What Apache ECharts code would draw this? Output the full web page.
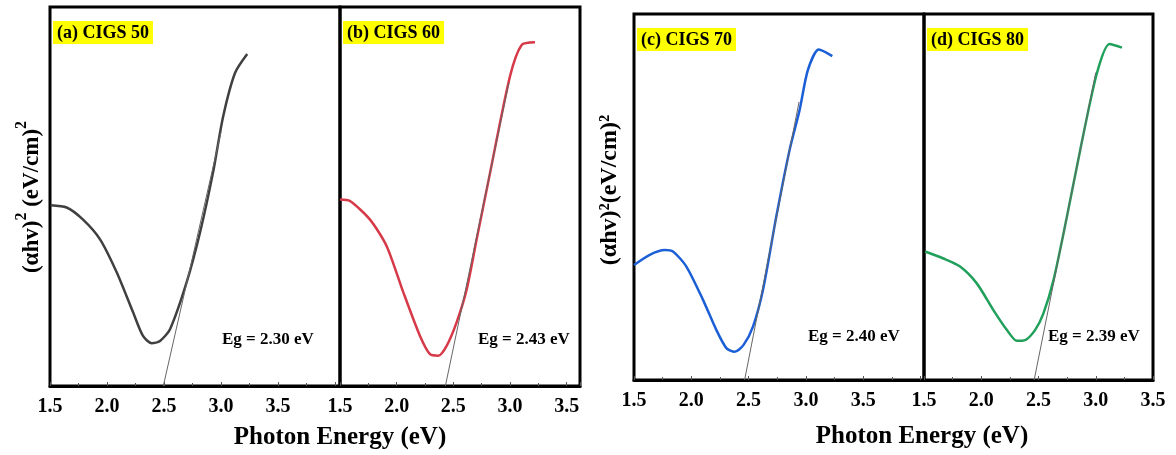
<!DOCTYPE html>
<html>
<head>
<meta charset="utf-8">
<script src="https://cdn.jsdelivr.net/npm/echarts@6/dist/echarts.min.js"></script>
<style>html,body{margin:0;padding:0;background:#fff;}#c{width:1176px;height:455px;}</style>
</head>
<body>
<div id="c"></div>
<script>
// ---- data (y in arbitrary units, 0..100 of panel height) ----
const xTicks = ['1.5', '2.0', '2.5', '3.0', '3.5'];
const panelTitles = ['(a) CIGS 50', '(b) CIGS 60', '(c) CIGS 70', '(d) CIGS 80'];
const egLabels = ['Eg = 2.30 eV', 'Eg = 2.43 eV', 'Eg = 2.40 eV', 'Eg = 2.39 eV'];

const energyA = [1.506, 1.646, 1.79, 1.939, 2.085, 2.228, 2.316, 2.392, 2.465, 2.553, 2.699, 2.816, 2.93, 3.018, 3.123, 3.23];
const absA    = [47.7, 47.1, 43.9, 38.7, 30.0, 19.5, 13.2, 11.3, 11.9, 15.0, 27.4, 40.5, 56.3, 71.0, 82.6, 87.6];
const tangentAx = [2.494, 3.0];
const tangentAy = [0, 67];

const energyB = [1.5, 1.588, 1.765, 1.912, 2.059, 2.206, 2.294, 2.368, 2.441, 2.529, 2.618, 2.706, 2.824, 3.0, 3.103, 3.221];
const absB    = [49.2, 48.8, 43.9, 36.9, 24.7, 13.2, 8.4, 8.0, 10.6, 16.8, 25.5, 38.7, 56.2, 81.7, 90.0, 90.7];
const tangentBx = [2.43, 2.99];
const tangentBy = [0, 80];

const energyC = [1.5, 1.637, 1.768, 1.84, 1.957, 2.102, 2.218, 2.306, 2.378, 2.456, 2.538, 2.625, 2.741, 2.857, 2.945, 3.017, 3.113, 3.23];
const absC    = [31.4, 34.2, 35.5, 35.1, 31.0, 21.9, 13.7, 8.7, 7.7, 9.6, 14.6, 24.6, 44.6, 62.8, 73.8, 84.7, 90.3, 88.5];
const tangentCx = [2.465, 2.94];
const tangentCy = [0, 76];

const energyD = [1.509, 1.669, 1.815, 1.961, 2.106, 2.223, 2.311, 2.383, 2.471, 2.543, 2.631, 2.748, 2.864, 3.01, 3.12, 3.229];
const absD    = [35.1, 33.2, 31.0, 26.4, 19.1, 13.7, 10.7, 10.9, 13.7, 18.2, 27.3, 44.6, 62.8, 83.8, 91.8, 90.8];
const tangentDx = [2.462, 3.0];
const tangentDy = [0, 84];

const xMax = [4.044, 3.618, 4.03, 3.5];
const colors = ['#404040', '#d63a48', '#1b5fd6', '#20a05a'];

// ---- layout ----
const FONT = '"Liberation Serif", "Times New Roman", serif';
const grids = [
  {left: 50, top: 7, width: 290, height: 379},
  {left: 340, top: 7, width: 240, height: 379},
  {left: 634, top: 14, width: 290, height: 366},
  {left: 924, top: 14, width: 229, height: 366}
];
const labelMargin = [11, 11, 11, 11];

function zip(xs, ys) { return xs.map((x, i) => [x, ys[i]]); }
const curves = [zip(energyA, absA), zip(energyB, absB), zip(energyC, absC), zip(energyD, absD)];
const tangents = [zip(tangentAx, tangentAy), zip(tangentBx, tangentBy), zip(tangentCx, tangentCy), zip(tangentDx, tangentDy)];

const egStyle = {fontFamily: FONT, fontWeight: 'bold', fontSize: 17, color: '#000'};

const chart = echarts.init(document.getElementById('c'));
const option = {
  animation: false,
  backgroundColor: '#fff',
  grid: grids.map(g => Object.assign({show: true, borderColor: '#000', borderWidth: 3, backgroundColor: 'transparent', containLabel: false}, g)),
  xAxis: grids.map((g, i) => ({
    type: 'value', gridIndex: i, min: 1.5, max: xMax[i], interval: 0.5,
    axisLine: {show: true, onZero: false, lineStyle: {color: '#000', width: 3}},
    axisTick: {show: true, inside: true, length: 4, lineStyle: {color: '#555', width: 1}},
    minorTick: {show: true, splitNumber: 2, length: 3, lineStyle: {color: '#555', width: 1}},
    splitLine: {show: false},
    axisLabel: {
      margin: labelMargin[i], fontFamily: FONT, fontWeight: 'bold', fontSize: 20, color: '#000',
      showMaxLabel: true,
      formatter: v => {
        const s = v.toFixed(1);
        return (Math.abs(v * 2 - Math.round(v * 2)) < 1e-6 && xTicks.indexOf(s) >= 0) ? s : '';
      }
    }
  })),
  yAxis: grids.map((g, i) => ({
    type: 'value', gridIndex: i, min: 0, max: 100,
    axisLine: {show: false}, axisTick: {show: false}, axisLabel: {show: false}, splitLine: {show: false}
  })),
  title: grids.map((g, i) => ({
    text: panelTitles[i],
    left: g.left + 3, top: g.top + 14,
    backgroundColor: '#ffff00', padding: [3, 4, 2, 4],
    textStyle: {fontFamily: FONT, fontWeight: 'bold', fontSize: 18, color: '#000'}
  })).concat([
    {text: egLabels[0], left: 222, top: 331, padding: 0, textStyle: egStyle},
    {text: egLabels[1], left: 478, top: 331, padding: 0, textStyle: egStyle},
    {text: egLabels[2], left: 808, top: 328, padding: 0, textStyle: egStyle},
    {text: egLabels[3], left: 1048, top: 328, padding: 0, textStyle: egStyle}
  ]),
  series: curves.map((d, i) => ({
    type: 'line', xAxisIndex: i, yAxisIndex: i, data: d, smooth: 0.25, symbol: 'none',
    lineStyle: {color: colors[i], width: 2.5}, z: 3
  })).concat(tangents.map((d, i) => ({
    type: 'line', xAxisIndex: i, yAxisIndex: i, data: d, symbol: 'none',
    lineStyle: {color: '#666', width: 1}, z: 4
  }))),
  graphic: [
    {type: 'text', x: 29, y: 197, rotation: Math.PI / 2,
      style: {text: '{a|(αhv)}{s|2}{a| (eV/cm)}{s|2}', align: 'center', verticalAlign: 'middle', fill: '#000',
        rich: {a: {fontFamily: FONT, fontWeight: 'bold', fontSize: 23, lineHeight: 30, verticalAlign: 'bottom'},
               s: {fontFamily: FONT, fontWeight: 'bold', fontSize: 16, lineHeight: 30, verticalAlign: 'top'}}}},
    {type: 'text', x: 610, y: 190, rotation: Math.PI / 2,
      style: {text: '(αhv)²(eV/cm)²', align: 'center', verticalAlign: 'middle', fill: '#000',
        font: 'bold 24px ' + FONT}},
    {type: 'text', x: 340, y: 438,
      style: {text: 'Photon Energy (eV)', align: 'center', verticalAlign: 'middle', fill: '#000',
        font: 'bold 25px ' + FONT}},
    {type: 'text', x: 922, y: 437,
      style: {text: 'Photon Energy (eV)', align: 'center', verticalAlign: 'middle', fill: '#000',
        font: 'bold 25px ' + FONT}}
  ]
};
chart.setOption(option);
</script>
</body>
</html>
